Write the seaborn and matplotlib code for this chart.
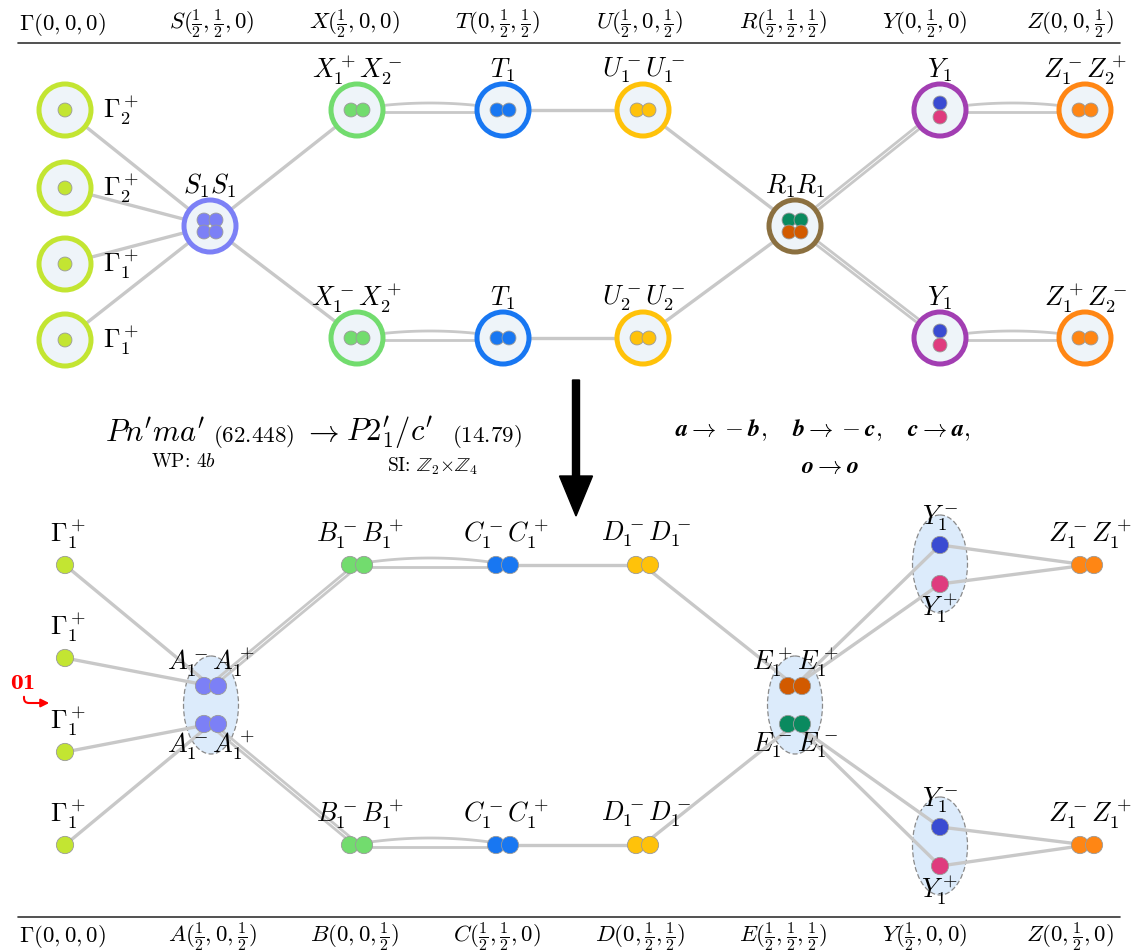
import numpy as np
import pandas as pd
import matplotlib
matplotlib.use("Agg")
import matplotlib.pyplot as plt
from matplotlib.patches import Circle, Ellipse, FancyArrow, FancyArrowPatch
import seaborn as sns

# Theme first, fonts after (set_theme resets font.family)
sns.set_theme(style="white")
plt.rcParams['font.family'] = ['DejaVu Serif']
plt.rcParams['mathtext.fontset'] = 'cm'
plt.rcParams['text.color'] = 'black'

# ---------------- data ----------------
topKpoints = [r"$\Gamma(0,0,0)$", r"$S(\frac{1}{2},\frac{1}{2},0)$",
              r"$X(\frac{1}{2},0,0)$", r"$T(0,\frac{1}{2},\frac{1}{2})$",
              r"$U(\frac{1}{2},0,\frac{1}{2})$", r"$R(\frac{1}{2},\frac{1}{2},\frac{1}{2})$",
              r"$Y(0,\frac{1}{2},0)$", r"$Z(0,0,\frac{1}{2})$"]
bottomKpoints = [r"$\Gamma(0,0,0)$", r"$A(\frac{1}{2},0,\frac{1}{2})$",
                 r"$B(0,0,\frac{1}{2})$", r"$C(\frac{1}{2},\frac{1}{2},0)$",
                 r"$D(0,\frac{1}{2},\frac{1}{2})$", r"$E(\frac{1}{2},\frac{1}{2},\frac{1}{2})$",
                 r"$Y(\frac{1}{2},0,0)$", r"$Z(0,\frac{1}{2},0)$"]

# top graph: irreps of the parent group (ringed nodes)
topIds = ['g1', 'g2', 'g3', 'g4', 'S', 'Xa', 'Xb', 'Ta', 'Tb',
          'Ua', 'Ub', 'R', 'Ya', 'Yb', 'Za', 'Zb']
topLabels = [r"$\Gamma_2^+$", r"$\Gamma_2^+$", r"$\Gamma_1^+$", r"$\Gamma_1^+$",
             r"$S_1S_1$", r"$X_1^+X_2^-$", r"$X_1^-X_2^+$", r"$T_1$", r"$T_1$",
             r"$U_1^-U_1^-$", r"$U_2^-U_2^-$", r"$R_1R_1$", r"$Y_1$", r"$Y_1$",
             r"$Z_1^-Z_2^+$", r"$Z_1^+Z_2^-$"]
topKind = ['G', 'G', 'G', 'G', 'S', 'X', 'X', 'T', 'T', 'U', 'U', 'R', 'Y', 'Y', 'Z', 'Z']
topEdges = [('g1', 'S', 1), ('g2', 'S', 1), ('g3', 'S', 1), ('g4', 'S', 1),
            ('S', 'Xa', 1), ('S', 'Xb', 1), ('Xa', 'Ta', 3), ('Xb', 'Tb', 3),
            ('Ta', 'Ua', 1), ('Tb', 'Ub', 1), ('Ua', 'R', 1), ('Ub', 'R', 1),
            ('R', 'Ya', 2), ('R', 'Yb', 2), ('Ya', 'Za', 3), ('Yb', 'Zb', 3)]

# bottom graph: irreps of the subgroup (bare dots, ellipses for groups)
botIds = ['g1', 'g2', 'g3', 'g4', 'Aa', 'Ab', 'Ba', 'Bb', 'Ca', 'Cb',
          'Da', 'Db', 'Ea', 'Eb', 'Y1m', 'Y1p', 'Y2m', 'Y2p', 'Za', 'Zb']
botLabels = [r"$\Gamma_1^+$", r"$\Gamma_1^+$", r"$\Gamma_1^+$", r"$\Gamma_1^+$",
             r"$A_1^-A_1^+$", r"$A_1^-A_1^+$", r"$B_1^-B_1^+$", r"$B_1^-B_1^+$",
             r"$C_1^-C_1^+$", r"$C_1^-C_1^+$", r"$D_1^-D_1^-$", r"$D_1^-D_1^-$",
             r"$E_1^+E_1^+$", r"$E_1^-E_1^-$", r"$Y_1^-$", r"$Y_1^+$",
             r"$Y_1^-$", r"$Y_1^+$", r"$Z_1^-Z_1^+$", r"$Z_1^-Z_1^+$"]
botKind = ['G', 'G', 'G', 'G', 'A', 'A', 'X', 'X', 'T', 'T', 'U', 'U',
           'Eo', 'Eg', 'Yb', 'Yp', 'Yb', 'Yp', 'Z', 'Z']
botEdges = [('g1', 'Aa', 1), ('g2', 'Aa', 1), ('g3', 'Ab', 1), ('g4', 'Ab', 1),
            ('Aa', 'Ba', 2), ('Ab', 'Bb', 2), ('Ba', 'Ca', 3), ('Bb', 'Cb', 3),
            ('Ca', 'Da', 1), ('Cb', 'Db', 1), ('Da', 'Ea', 1), ('Db', 'Eb', 1),
            ('Ea', 'Y1m', 1), ('Ea', 'Y1p', 1), ('Eb', 'Y2m', 1), ('Eb', 'Y2p', 1),
            ('Y1m', 'Za', 1), ('Y1p', 'Za', 1), ('Y2m', 'Zb', 1), ('Y2p', 'Zb', 1)]

# ---------------- layout / style ----------------
headX = [62, 212, 355, 497, 640, 783, 925, 1070]
topPos = {'g1': (65, 110), 'g2': (65, 188), 'g3': (65, 264), 'g4': (65, 340),
          'S': (210, 226), 'Xa': (357, 110), 'Xb': (357, 338),
          'Ta': (503, 110), 'Tb': (503, 338), 'Ua': (643, 110), 'Ub': (643, 338),
          'R': (795, 226), 'Ya': (940, 110), 'Yb': (940, 338),
          'Za': (1085, 110), 'Zb': (1085, 338)}
botPos = {'g1': (65, 565), 'g2': (65, 658), 'g3': (65, 752), 'g4': (65, 845),
          'Aa': (211, 686), 'Ab': (211, 724), 'Ba': (357, 565), 'Bb': (357, 845),
          'Ca': (503, 565), 'Cb': (503, 845), 'Da': (643, 565), 'Db': (643, 845),
          'Ea': (795, 686), 'Eb': (795, 724), 'Y1m': (940, 545), 'Y1p': (940, 584),
          'Y2m': (940, 827), 'Y2p': (940, 866), 'Za': (1087, 565), 'Zb': (1087, 845)}

colors = {'G': '#c3e532', 'S': '#7c80f6', 'X': '#72dc6e', 'T': '#1877f2',
          'U': '#ffc20a', 'R': '#8b7040', 'Y': '#a23eb2', 'Z': '#ff8614',
          'A': '#7c80f6', 'Eo': '#d25a00', 'Eg': '#0a8a5f',
          'Yb': '#3a4bd2', 'Yp': '#df3b7e'}
edgeColor = '#c8c8c8'
ringFill = '#eef4f9'

fig = plt.figure(figsize=(11.37, 9.52), dpi=100)
ax = fig.add_axes([0, 0, 1, 1])
ax.set_xlim(0, 1137)
ax.set_ylim(952, 0)
ax.axis('off')


def drawEdge(p, q, mult):
    (x0, y0), (x1, y1) = p, q
    if mult == 1:
        ax.plot([x0, x1], [y0, y1], color=edgeColor, lw=2.4, zorder=2,
                solid_capstyle='butt')
    elif mult == 2:
        d = np.array([x1 - x0, y1 - y0], float)
        n = np.array([-d[1], d[0]]) / np.hypot(*d) * 1.8
        for s in (-1, 1):
            ax.plot([x0 + s * n[0], x1 + s * n[0]], [y0 + s * n[1], y1 + s * n[1]],
                    color=edgeColor, lw=2.0, zorder=2)
    else:
        # one straight and one slightly bowed line
        ax.plot([x0, x1], [y0 + 2, y1 + 2], color=edgeColor, lw=2.0, zorder=2)
        t = np.linspace(0, 1, 60)
        xs = x0 + (x1 - x0) * t
        ys = y0 + (y1 - y0) * t - 24 * t * (1 - t) - 1
        ax.plot(xs, ys, color=edgeColor, lw=2.0, zorder=2)


# ---- headers
for x, lab in zip(headX, topKpoints):
    ax.text(x, 24, lab, ha='center', va='center', fontsize=16.5)
ax.plot([18, 1120], [43, 43], color='#333333', lw=1.2)
for x, lab in zip(headX, bottomKpoints):
    ax.text(x, 937, lab, ha='center', va='center', fontsize=16.5)
ax.plot([18, 1120], [917, 917], color='#333333', lw=1.2)

# ---- top edges
for a, b, m in topEdges:
    drawEdge(topPos[a], topPos[b], m)

# ---- top nodes: rings plus inner dots
dotRows = []
for nid, lab, kind in zip(topIds, topLabels, topKind):
    x, y = topPos[nid]
    ax.add_patch(Circle((x, y), 26, facecolor=ringFill, edgecolor=colors[kind],
                        lw=3.6, zorder=3))
    if kind == 'G':
        dotRows.append((x, y, colors['G']))
        ax.text(x + 38, y, lab, ha='left', va='center', fontsize=19)
        continue
    if kind == 'S':
        for dx in (-6, 6):
            for dy in (-6, 6):
                dotRows.append((x + dx, y + dy, colors['S']))
    elif kind == 'R':
        for dx in (-6, 6):
            dotRows.append((x + dx, y - 6, colors['Eg']))
            dotRows.append((x + dx, y + 6, colors['Eo']))
    elif kind == 'Y':
        dotRows.append((x, y - 7, colors['Yb']))
        dotRows.append((x, y + 7, colors['Yp']))
    else:
        for dx in (-6, 6):
            dotRows.append((x + dx, y, colors[kind]))
    ax.text(x, y - 40, lab, ha='center', va='center', fontsize=19)

topDots = pd.DataFrame(dotRows, columns=['x', 'y', 'c'])
sns.scatterplot(data=topDots, x='x', y='y', c=topDots['c'], s=100,
                edgecolor='#9a9a9a', linewidth=0.6, ax=ax, zorder=4, legend=False)

# ---- big arrow and subgroup info
ax.add_patch(FancyArrow(576, 380, 0, 136, width=7, head_width=33, head_length=40,
                        length_includes_head=True, color='black', zorder=5))
ax.text(105, 433, r"$Pn'ma'$", ha='left', va='center', fontsize=22)
ax.text(213, 437, r"$(62.448)$", ha='left', va='center', fontsize=16.5)
ax.text(303, 433, r"$\rightarrow$", ha='left', va='center', fontsize=22)
ax.text(346, 433, r"$P2_1'/c'$", ha='left', va='center', fontsize=22)
ax.text(452, 437, r"$(14.79)$", ha='left', va='center', fontsize=16.5)
ax.text(183, 462, r"WP: $4b$", ha='center', va='center', fontsize=14,
        family='cmr10')
ax.text(432, 466, r"SI: $\mathbb{Z}_2{\times}\mathbb{Z}_4$",
        ha='center', va='center', fontsize=14, family='cmr10')
ax.text(823, 430, r"$\boldsymbol{a}\rightarrow -\boldsymbol{b},\quad \boldsymbol{b}\rightarrow -\boldsymbol{c},\quad \boldsymbol{c}\rightarrow \boldsymbol{a},$",
        ha='center', va='center', fontsize=17.5)
ax.text(830, 466, r"$\boldsymbol{o}\rightarrow \boldsymbol{o}$",
        ha='center', va='center', fontsize=17.5)

# ---- bottom ellipses (grouped irreps)
for cx, cy in [(211, 705), (795, 705), (940, 564), (940, 846)]:
    ax.add_patch(Ellipse((cx, cy), 55, 98, facecolor='#dcebfb', edgecolor='#8a8a8a',
                         lw=0.9, ls=(0, (4, 2)), zorder=1))

# ---- bottom edges
for a, b, m in botEdges:
    drawEdge(botPos[a], botPos[b], m)

# ---- bottom dots and labels
rows = []
for nid, lab, kind in zip(botIds, botLabels, botKind):
    x, y = botPos[nid]
    if kind in ('G', 'Yb', 'Yp'):
        rows.append((x, y, colors[kind]))
    else:
        for dx in (-7, 7):
            rows.append((x + dx, y, colors[kind]))
    if nid in ('Ab', 'Eb'):
        ax.text(x, y + 21, lab, ha='center', va='center', fontsize=19)
    elif nid in ('Aa', 'Ea'):
        ax.text(x, y - 24, lab, ha='center', va='center', fontsize=19)
    elif kind == 'Yp':
        ax.text(x, y + 24, lab, ha='center', va='center', fontsize=19)
    elif kind == 'Yb':
        ax.text(x, y - 27, lab, ha='center', va='center', fontsize=19)
    else:
        ax.text(x + 3, y - 31, lab, ha='center', va='center', fontsize=19)

botDots = pd.DataFrame(rows, columns=['x', 'y', 'c'])
sns.scatterplot(data=botDots, x='x', y='y', c=botDots['c'], s=155,
                edgecolor='#9a9a9a', linewidth=0.6, ax=ax, zorder=4, legend=False)

# ---- red "01" marker
ax.text(23, 684, "01", color='red', fontsize=13, fontweight='bold',
        ha='center', va='center', family='DejaVu Serif')
ax.add_patch(FancyArrowPatch((24, 694), (52, 703), arrowstyle='-|>', mutation_scale=12,
                             connectionstyle="angle,angleA=-90,angleB=0,rad=5",
                             color='red', lw=1.5, zorder=6))

ax.set_xlim(0, 1137)
ax.set_ylim(952, 0)
ax.set_xlabel('')
ax.set_ylabel('')
fig.savefig('out.png', dpi=100)
